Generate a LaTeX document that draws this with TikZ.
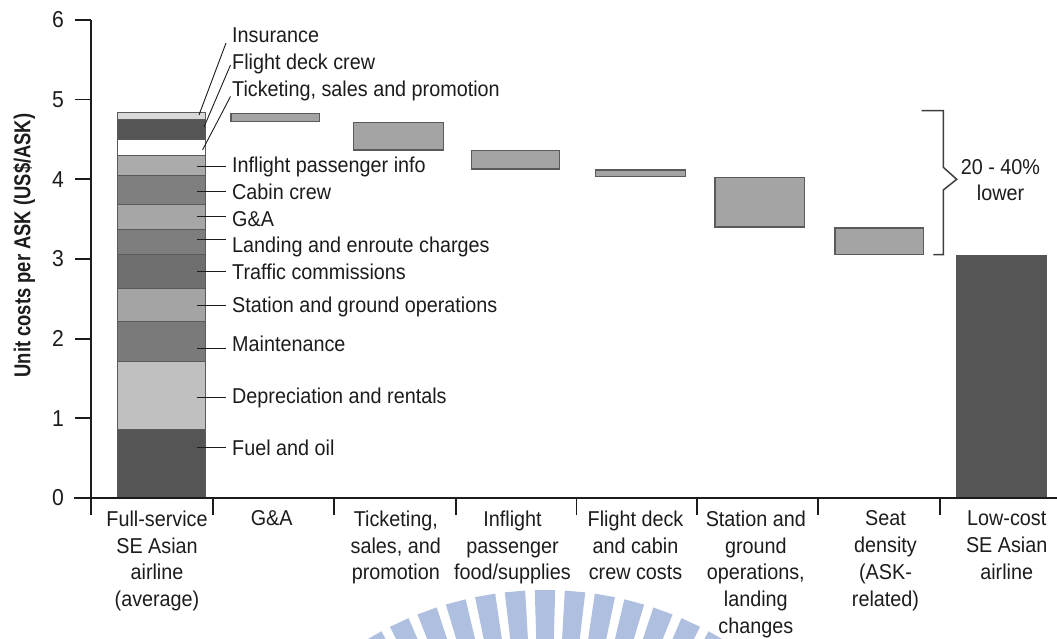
\documentclass[tikz,border=0pt]{standalone}
\usepackage{fontspec}
\setmainfont{Liberation Sans}[FakeStretch=0.92]
\newfontfamily\ylabfont{Liberation Sans}[FakeStretch=0.8]
\usetikzlibrary{calc}

\definecolor{ink}{HTML}{1C1C1C}
\definecolor{edge}{HTML}{5A5A5A}
\definecolor{barfill}{HTML}{A4A4A4}
\definecolor{lowcost}{HTML}{555555}
\definecolor{wmark}{HTML}{AFBFDF}
% stacked segments of the full-service bar
\definecolor{sIns}{HTML}{D9D9D9}
\definecolor{sFdc}{HTML}{555555}
\definecolor{sTix}{HTML}{FFFFFF}
\definecolor{sIfe}{HTML}{ABABAB}
\definecolor{sCab}{HTML}{7F7F7F}
\definecolor{sGna}{HTML}{A6A6A6}
\definecolor{sLnd}{HTML}{7D7D7D}
\definecolor{sTrf}{HTML}{6E6E6E}
\definecolor{sStn}{HTML}{A4A4A4}
\definecolor{sMnt}{HTML}{7A7A7A}
\definecolor{sDep}{HTML}{C0C0C0}
\definecolor{sFue}{HTML}{555555}

\newcommand\lblfont{\fontsize{21.5}{26.8}\selectfont}

\tikzset{
  axisline/.style={draw=ink, line width=1.8pt},
  lbl/.style={anchor=base west, inner sep=0pt, text=ink, font=\lblfont},
  leader/.style={draw=ink, line width=0.9pt},
  seg/.style={draw=edge, line width=1pt},
  wbar/.style={fill=barfill, draw=edge, line width=1.1pt},
  cat/.style={anchor=north, align=center, inner sep=0pt, text=ink,
              font=\lblfont},
  ticklbl/.style={anchor=east, inner sep=0pt, text=ink,
                  font=\fontsize{23}{27}\selectfont},
}

\begin{document}
\begin{tikzpicture}[x=1pt,y=-1pt]
\useasboundingbox (0,0) rectangle (1057,639);

% faint logo stripes near the bottom
\begin{scope}
  \clip (0,0) rectangle (1057,639);
  \foreach \t in {-30,-25,...,30} {
    \fill[wmark, shift={(545,935)}]
      ({-90+\t-1.7}:250) -- ({-90+\t-1.7}:345) --
      ({-90+\t+1.7}:345) -- ({-90+\t+1.7}:250) -- cycle;
  }
\end{scope}

% full-service airline: stacked cost components
\foreach \ya/\yb/\c in {112.7/119.3/sIns, 119.3/139.3/sFdc, 139.3/155.3/sTix,
    155.3/176/sIfe, 176/204.3/sCab, 204.3/229.3/sGna, 229.3/254/sLnd,
    254/288.3/sTrf, 288.3/321/sStn, 321/361.7/sMnt, 361.7/429.3/sDep,
    429.3/498/sFue}
  \filldraw[seg, fill=\c] (117.5,\ya) rectangle (205.5,\yb);

% waterfall steps
\filldraw[wbar] (231,113.3) rectangle (319.3,121.7);
\filldraw[wbar] (353.7,122.3) rectangle (443.3,150);
\filldraw[wbar] (471.3,150.3) rectangle (559.7,169);
\filldraw[wbar] (595.7,170) rectangle (685.3,176.3);
\filldraw[wbar] (715,177.3) rectangle (804.3,227);
\filldraw[wbar] (835,228) rectangle (923.3,254.3);
% low-cost airline
\filldraw[fill=lowcost, draw=lowcost] (956,255.3) rectangle (1045.7,498);

% axes
\draw[axisline] (91,20) -- (91,515);
\draw[axisline] (74,498) -- (1057,498);
\foreach \v in {1,...,6}
  \draw[axisline] (75,{498-79.7*\v}) -- (91,{498-79.7*\v});
\foreach \v in {0,...,6}
  \node[ticklbl] (yt\v) at (64,{498-79.7*\v}) {\v};
\foreach \x in {213.3,334.3,455.7,576.5,697.3,818.3,940}
  \draw[axisline] (\x,498) -- (\x,515);

% axis title
\node[rotate=90, anchor=base, inner sep=0pt, text=ink,
      font=\ylabfont\bfseries\fontsize{23}{27}\selectfont]
  (ytitle) at (30.5,245.5) {Unit costs per ASK (US\$/ASK)};

% component labels
\node[lbl] (lIns) at (232,43)    {Insurance};
\node[lbl] (lFdc) at (232,70)    {Flight deck crew};
\node[lbl] (lTix) at (232,96.5)  {Ticketing, sales and promotion};
\node[lbl] (lIfe) at (232,172.3) {Inflight passenger info};
\node[lbl] (lCab) at (232,200)   {Cabin crew};
\node[lbl] (lGna) at (232,226)   {G\&A};
\node[lbl] (lLnd) at (232,252.3) {Landing and enroute charges};
\node[lbl] (lTrf) at (232,279.3) {Traffic commissions};
\node[lbl] (lStn) at (232,312.7) {Station and ground operations};
\node[lbl] (lMnt) at (232,351.7) {Maintenance};
\node[lbl] (lDep) at (232,403.3) {Depreciation and rentals};
\node[lbl] (lFue) at (232,455)   {Fuel and oil};

% leader lines from the bar to the labels
\coordinate (aIns) at (199,115);   \coordinate (bIns) at (226,43);
\coordinate (aFdc) at (204,127);   \coordinate (bFdc) at (230.5,65);
\coordinate (aTix) at (202.5,150); \coordinate (bTix) at (230.5,96.5);
\draw[leader] (aIns) -- (bIns);
\draw[leader] (aFdc) -- (bFdc);
\draw[leader] (aTix) -- (bTix);
\foreach \n/\y in {Ife/166.7, Cab/191, Gna/216.3, Lnd/239.3, Trf/271.7,
    Stn/305, Mnt/348.3, Dep/397.7, Fue/447.7} {
  \coordinate (a\n) at (197,\y);
  \coordinate (b\n) at (226,\y);
  \draw[leader] (a\n) -- (b\n);
}

% bracket for the overall saving
\draw[draw=ink!85, line width=1.5pt]
  (921.7,110.7) -- (943.3,110.7) -- (943.3,167.3) -- (956.7,179.3)
  -- (943.3,190) -- (943.3,254.7) -- (933.3,254.7);
\node[anchor=north, align=center, inner sep=0pt, text=ink,
      font=\fontsize{21.5}{25.5}\selectfont]
  (saving) at (1000.5,159.5) {20 - 40\%\\lower};

% category labels
\node[cat] (c1) at (157,510.5)   {Full-service\\SE Asian\\airline\\(average)};
\node[cat] (c2) at (271.7,510.5) {G\&A};
\node[cat] (c3) at (395.8,510.5) {Ticketing,\\sales, and\\promotion};
\node[cat] (c4) at (512.5,510.5) {Inflight\\passenger\\food/supplies};
\node[cat] (c5) at (635.5,510.5) {Flight deck\\and cabin\\crew costs};
\node[cat] (c6) at (755.8,510.5) {Station and\\ground\\operations,\\landing\\changes};
\node[cat] (c7) at (885.5,510.5) {Seat\\density\\(ASK-\\related)};
\node[cat] (c8) at (1006.7,510.5) {Low-cost\\SE Asian\\airline};
\end{tikzpicture}
\end{document}
